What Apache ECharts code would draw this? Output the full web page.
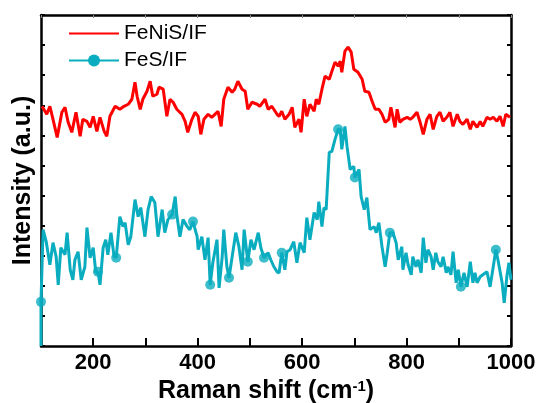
<!DOCTYPE html>
<html><head><meta charset="utf-8">
<script src="https://cdn.jsdelivr.net/npm/echarts@6/dist/echarts.min.js"></script>
<style>html,body{margin:0;padding:0;background:#fff}#c{width:541px;height:403px}</style>
</head><body><div id="c"></div>
<script>
const redX = [102,111,117,123,131,140,146,152,159,167,175,180,188,194,200,207,213,221,226,232,242,251,259,267,274,280,284,290,295,303,309,314,322,326,334,341,347,353,360,370,376,381,389,395,401,406,412,420,427,433,439,445,450,458,466,471,477,485,491,496,504,514,519,529,535,542,552,556,561,567,575,581,586,594,598,604,609,615,623,627,632,638,644,652,657,663,669,673,676,682,688,694,699,707,715,720,728,734,740,747,753,759,766,770,778,782,787,793,801,807,812,820,826,832,839,845,851,858,864,870,877,883,889,897,902,908,916,922,927,935,941,946,954,960,966,973,979,985,990,998];
const redY = [239,231,239,226,208,233,238,223,213,233,209,226,224,218,229,214,228,214,209,229,239,236,239,241,246,263,249,236,246,254,264,249,251,258,256,229,246,243,236,231,224,213,226,233,229,211,226,231,228,231,234,219,246,258,253,256,264,256,254,236,243,241,239,246,236,239,231,229,234,226,231,238,218,226,213,246,229,241,234,246,241,256,269,266,274,283,279,284,273,294,298,293,276,273,266,254,253,244,236,236,231,223,226,238,218,236,223,226,228,226,228,233,223,211,226,231,216,229,233,224,228,233,219,231,224,221,226,216,224,218,224,219,228,226,228,224,229,219,231,228];
const cyanX = [100,100,104,110,117,123,129,133,138,146,150,156,161,165,171,177,184,188,194,200,205,209,213,219,224,228,234,240,244,247,251,257,261,267,272,280,286,291,299,305,311,318,324,332,337,343,351,357,360,366,372,380,385,391,399,401,408,414,420,424,429,437,441,447,450,456,460,466,473,479,485,489,496,502,508,516,521,527,535,540,546,552,556,561,567,571,577,584,590,596,604,609,615,623,629,632,638,642,646,652,657,663,669,673,676,682,686,692,699,701,709,713,719,724,730,738,742,747,753,759,763,768,774,780,784,791,793,799,803,809,812,818,822,828,832,837,841,847,851,856,860,866,870,876,879,885,889,895,899,904,910,916,922,927,931,935,941,946,954,960,966,971,975,983,987,992,996,1000];
const cyanY = [0,44,116,104,81,103,89,61,98,91,113,76,66,86,94,66,79,118,88,98,73,74,61,98,106,91,113,89,88,88,129,119,123,101,109,146,129,138,109,136,149,143,109,136,113,126,131,149,131,109,126,119,116,124,109,96,109,86,108,61,83,106,58,89,116,79,68,89,113,99,76,116,84,106,96,113,98,88,93,86,79,74,73,93,76,94,96,104,83,103,93,128,106,133,126,144,119,138,136,193,194,206,216,216,196,219,199,176,179,168,176,149,136,148,116,119,113,123,99,79,93,113,113,103,86,99,76,93,81,71,89,79,86,73,108,83,96,89,76,93,84,79,89,73,79,71,94,63,76,59,73,59,84,63,73,63,69,71,74,59,79,96,86,63,43,69,83,66];
const cyanMarkerX = [100,209,244,351,391,424,460,496,527,561,669,701,768,904,971];
const xTickLabels = [200,400,600,800,1000];

const red = redX.map((x,i)=>[x,redY[i]]);
const cyan = cyanX.map((x,i)=>[x,cyanY[i]]);
const cyanMarkers = cyanMarkerX.map(x=>[x, cyanY[cyanX.lastIndexOf(x)]]);

const font = 'Liberation Sans, Arial, sans-serif';
const chart = echarts.init(document.getElementById('c'));
const axLine = {show:true, lineStyle:{color:'#000', width:2.5}};
const cyanColor = '#0aadbf';
chart.setOption({
  animation:false,
  backgroundColor:'#fff',
  grid:{left:41, right:30, top:15, bottom:57, outerBoundsMode:'none', containLabel:false},
  legend:{
    orient:'vertical', left:63, top:18, itemWidth:50, itemHeight:15, itemGap:6,
    textStyle:{fontFamily:font, fontSize:21, color:'#000'},
    data:[{name:'FeNiS/IF', itemStyle:{opacity:0}},{name:'FeS/IF'}]
  },
  xAxis:[
    {type:'value', position:'bottom', min:100, max:1000, interval:100,
     axisLine:axLine,
     axisTick:{show:true, inside:true, length:8, lineStyle:{color:'#000', width:2},
       interval:function(i,v){return v%200===0;}},
     axisLabel:{fontFamily:font, fontWeight:'bold', fontSize:22, color:'#000', margin:6,
       formatter:function(v){return xTickLabels.indexOf(v)>=0 ? String(v) : '';}},
     splitLine:{show:false},
     name:'Raman shift (cm{sup|-1})', nameLocation:'middle', nameGap:29,
     nameTextStyle:{fontFamily:font, fontWeight:'bold', fontSize:25, color:'#000', padding:[0,20,0,0],
       rich:{sup:{fontFamily:font, fontWeight:'bold', fontSize:15, color:'#000', verticalAlign:'top', padding:[0,0,10,0]}}}
    },
    {type:'value', position:'bottom', min:100, max:1000, interval:100,
     axisLine:{show:false}, axisTick:{show:true, inside:true, length:4, lineStyle:{color:'#000', width:2}},
     axisLabel:{show:false}, splitLine:{show:false}},
    {type:'value', position:'top', min:100, max:1000, interval:100,
     axisLine:axLine, axisTick:{show:true, inside:true, length:3, lineStyle:{color:'#888', width:1}},
     axisLabel:{show:false}, splitLine:{show:false}}
  ],
  yAxis:[
    {type:'value', position:'left', min:0, max:330, interval:30,
     axisLine:axLine, axisTick:{show:true, inside:true, length:4, lineStyle:{color:'#000', width:2}},
     axisLabel:{show:false}, splitLine:{show:false},
     name:'Intensity (a.u.)', nameLocation:'middle', nameGap:5,
     nameTextStyle:{fontFamily:font, fontWeight:'bold', fontSize:25, color:'#000'}},
    {type:'value', position:'right', min:0, max:330, interval:30,
     axisLine:axLine, axisTick:{show:true, inside:true, length:4, lineStyle:{color:'#000', width:2}},
     axisLabel:{show:false}, splitLine:{show:false}}
  ],
  series:[
    {name:'FeNiS/IF', type:'line', data:red, symbol:'none', lineStyle:{color:'#ff0000', width:3}, itemStyle:{color:'#ff0000'}, z:3},
    {name:'FeS/IF', type:'line', data:cyan, symbol:'circle', symbolSize:10, showSymbol:false,
     lineStyle:{color:cyanColor, width:3}, itemStyle:{color:cyanColor}, z:2},
    {name:'FeS/IF', type:'scatter', data:cyanMarkers, symbol:'circle', symbolSize:10,
     itemStyle:{color:cyanColor}, z:2}
  ]
});
</script></body></html>
